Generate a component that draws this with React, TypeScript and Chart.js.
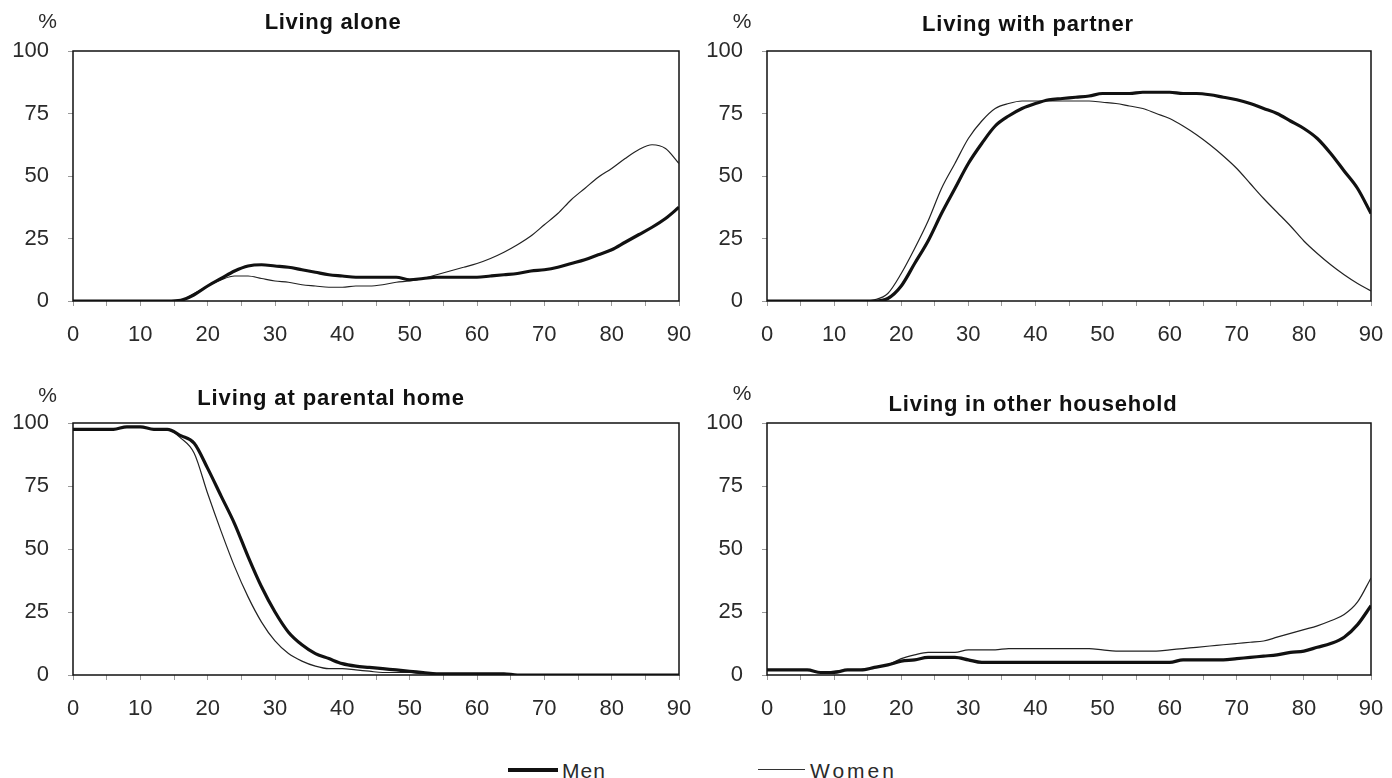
import React, { useEffect, useRef } from "react";
import { Chart, registerables } from "chart.js";

Chart.register(...registerables);

// ---------- data ----------
const AGES = [
  0, 2, 4, 6, 8, 10, 12, 14, 16, 18, 20, 22, 24, 26, 28, 30, 32, 34, 36, 38, 40, 42, 44,
  46, 48, 50, 52, 54, 56, 58, 60, 62, 64, 66, 68, 70, 72, 74, 76, 78, 80, 82, 84, 86, 88, 90,
];

const X_TICKS = [0, 5, 10, 15, 20, 25, 30, 35, 40, 45, 50, 55, 60, 65, 70, 75, 80, 85, 90];
const Y_TICKS = [0, 25, 50, 75, 100];

const TITLES = [
  "Living alone",
  "Living with partner",
  "Living at parental home",
  "Living in other household",
];
const SERIES_NAMES = ["Men", "Women"];

const ALONE_MEN = [
  0, 0, 0, 0, 0, 0, 0, 0, 0.3, 2.5, 6, 9, 12, 14, 14.5, 14, 13.5, 12.5, 11.5, 10.5, 10, 9.5, 9.5,
  9.5, 9.5, 8.5, 9, 9.5, 9.5, 9.5, 9.5, 10, 10.5, 11, 12, 12.5, 13.5, 15, 16.5, 18.5, 20.5, 23.5,
  26.5, 29.5, 33, 37.5,
];
const ALONE_WOMEN = [
  0, 0, 0, 0, 0, 0, 0, 0, 0.3, 3, 6, 8.5, 10, 10, 9, 8, 7.5, 6.5, 6, 5.5, 5.5, 6, 6, 6.5, 7.5, 8,
  9, 10.5, 12, 13.5, 15, 17, 19.5, 22.5, 26, 30.5, 35, 40.5, 45, 49.5, 53, 57, 60.5, 62.5, 61, 55,
];

const PARTNER_MEN = [
  0, 0, 0, 0, 0, 0, 0, 0, 0, 1, 6, 15, 24, 35, 45, 55, 63, 70, 74, 77, 79, 80.5, 81, 81.5, 82, 83,
  83, 83, 83.5, 83.5, 83.5, 83, 83, 82.5, 81.5, 80.5, 79, 77, 75, 72, 69, 65, 59, 52, 45, 35,
];
const PARTNER_WOMEN = [
  0, 0, 0, 0, 0, 0, 0, 0, 0.5, 3, 11, 21, 32, 45, 55, 65, 72, 77, 79, 80, 80, 80, 80, 80, 80, 79.5,
  79, 78, 77, 75, 73, 70, 66.5, 62.5, 58, 53, 47, 41, 35.5, 30, 24, 19, 14.5, 10.5, 7, 4,
];

const PARENTAL_MEN = [
  97.5, 97.5, 97.5, 97.5, 98.5, 98.5, 97.5, 97.5, 95, 92, 82, 71, 60, 47, 35, 25, 17, 12, 8.5, 6.5,
  4.5, 3.5, 3, 2.5, 2, 1.5, 1, 0.5, 0.5, 0.5, 0.5, 0.5, 0.5, 0, 0, 0, 0, 0, 0, 0, 0, 0, 0, 0, 0, 0,
];
const PARENTAL_WOMEN = [
  97.5, 97.5, 97.5, 97.5, 98.5, 98.5, 97.5, 97.5, 94, 88, 72, 57, 43, 31, 21, 13.5, 8.5, 5.5, 3.5,
  2.5, 2.5, 2, 1.5, 1, 1, 1, 0.5, 0.5, 0, 0, 0, 0, 0, 0, 0, 0, 0, 0, 0, 0, 0, 0, 0, 0, 0, 0,
];

const OTHER_MEN = [
  2, 2, 2, 2, 1, 1, 2, 2, 3, 4, 5.5, 6, 7, 7, 7, 6, 5, 5, 5, 5, 5, 5, 5, 5, 5, 5, 5, 5, 5, 5, 5, 6,
  6, 6, 6, 6.5, 7, 7.5, 8, 9, 9.5, 11, 12.5, 15, 20, 27.5,
];
const OTHER_WOMEN = [
  2, 2, 2, 2, 1, 1.5, 2, 2, 3, 4, 6.5, 8, 9, 9, 9, 10, 10, 10, 10.5, 10.5, 10.5, 10.5, 10.5, 10.5,
  10.5, 10, 9.5, 9.5, 9.5, 9.5, 10, 10.5, 11, 11.5, 12, 12.5, 13, 13.5, 15, 16.5, 18, 19.5, 21.5,
  24, 29, 38.5,
];

// ---------- styling ----------
const FONT = '"Liberation Sans", Arial, Helvetica, sans-serif';
const TEXT_COLOR = "#2a2a2a";

const framePlugin = {
  id: "frame",
  beforeDatasetsDraw(chart: any) {
    const { ctx, chartArea } = chart;
    ctx.save();
    ctx.strokeStyle = "#111";
    ctx.lineWidth = 1.5;
    ctx.strokeRect(chartArea.left, chartArea.top, chartArea.right - chartArea.left, chartArea.bottom - chartArea.top);
    ctx.restore();
  },
};

type PanelProps = {
  men: number[];
  women: number[];
  left: number;
  top: number;
  width: number;
  height: number;
  areaLeft: number;
  areaTop: number;
  areaRight: number;
  areaBottom: number;
};

function Panel(p: PanelProps) {
  const ref = useRef<HTMLCanvasElement>(null);
  useEffect(() => {
    const toPts = (vals: number[]) => AGES.map((a, i) => ({ x: a, y: vals[i] }));
    const chart = new Chart(ref.current as HTMLCanvasElement, {
      type: "line",
      data: {
        datasets: [
          {
            label: SERIES_NAMES[0],
            data: toPts(p.men),
            borderColor: "#111",
            borderWidth: 3.2,
            pointRadius: 0,
            cubicInterpolationMode: "monotone",
            fill: false,
          },
          {
            label: SERIES_NAMES[1],
            data: toPts(p.women),
            borderColor: "#222",
            borderWidth: 1.2,
            pointRadius: 0,
            cubicInterpolationMode: "monotone",
            fill: false,
          },
        ],
      },
      options: {
        responsive: false,
        maintainAspectRatio: false,
        animation: false,
        layout: {
          padding: { top: p.areaTop, right: p.width - p.areaRight, left: 0, bottom: 0 },
        },
        plugins: {
          legend: { display: false },
          tooltip: { enabled: false },
          title: { display: false },
        },
        scales: {
          x: {
            type: "linear",
            min: 0,
            max: 90,
            afterBuildTicks: (s: any) => {
              s.ticks = X_TICKS.map((v) => ({ value: v }));
            },
            afterFit: (s: any) => {
              s.height = p.height - p.areaBottom;
            },
            grid: { drawOnChartArea: false, drawTicks: true, tickLength: 5, color: "#9a9a9a" },
            border: { display: false },
            ticks: {
              autoSkip: false,
              maxRotation: 0,
              minRotation: 0,
              padding: 16,
              color: TEXT_COLOR,
              font: { family: FONT, size: 22 },
              callback: (v: any) => (Number(v) % 10 === 0 ? String(v) : ""),
            },
          },
          y: {
            type: "linear",
            min: 0,
            max: 100,
            afterBuildTicks: (s: any) => {
              s.ticks = Y_TICKS.map((v) => ({ value: v }));
            },
            afterFit: (s: any) => {
              s.width = p.areaLeft;
            },
            grid: { drawOnChartArea: false, drawTicks: true, tickLength: 5, color: "#9a9a9a" },
            border: { display: false },
            ticks: {
              padding: 19,
              color: TEXT_COLOR,
              font: { family: FONT, size: 22 },
              callback: (v: any) => String(v),
            },
          },
        },
      },
      plugins: [framePlugin],
    } as any);
    return () => chart.destroy();
  }, []);
  return (
    <canvas
      ref={ref}
      width={p.width}
      height={p.height}
      style={{ position: "absolute", left: p.left, top: p.top, width: p.width, height: p.height }}
    />
  );
}

function Label(props: {
  text: string;
  cx: number;
  top: number;
  size: number;
  bold?: boolean;
  spacing?: number;
}) {
  return (
    <div
      style={{
        position: "absolute",
        left: props.cx,
        top: props.top,
        transform: "translateX(-50%)",
        whiteSpace: "nowrap",
        fontFamily: FONT,
        fontSize: props.size,
        lineHeight: `${props.size}px`,
        fontWeight: props.bold ? 700 : 400,
        letterSpacing: props.spacing ? `${props.spacing}px` : undefined,
        color: props.bold ? "#111" : TEXT_COLOR,
      }}
    >
      {props.text}
    </div>
  );
}

export default function App() {
  return (
    <div
      style={{
        position: "fixed",
        left: 0,
        top: 0,
        width: 1392,
        height: 778,
        background: "#ffffff",
        overflow: "hidden",
      }}
    >
      <Panel men={ALONE_MEN} women={ALONE_WOMEN} left={0} top={0} width={720} height={360} areaLeft={73} areaTop={51} areaRight={679} areaBottom={301} />
      <Panel men={PARTNER_MEN} women={PARTNER_WOMEN} left={692} top={0} width={720} height={360} areaLeft={75} areaTop={51} areaRight={679} areaBottom={301} />
      <Panel men={PARENTAL_MEN} women={PARENTAL_WOMEN} left={0} top={360} width={720} height={380} areaLeft={73} areaTop={63} areaRight={679} areaBottom={315} />
      <Panel men={OTHER_MEN} women={OTHER_WOMEN} left={692} top={360} width={720} height={380} areaLeft={75} areaTop={63} areaRight={679} areaBottom={315} />

      <Label text={TITLES[0]} cx={333} top={11} size={22} bold spacing={0.7} />
      <Label text={TITLES[1]} cx={1028} top={13} size={22} bold spacing={0.8} />
      <Label text={TITLES[2]} cx={331} top={387} size={22} bold spacing={0.9} />
      <Label text={TITLES[3]} cx={1033} top={393} size={22} bold spacing={0.8} />

      <Label text="%" cx={47.5} top={10} size={21} />
      <Label text="%" cx={742} top={10} size={21} />
      <Label text="%" cx={47.5} top={384} size={21} />
      <Label text="%" cx={742} top={382} size={21} />

      <div style={{ position: "absolute", left: 508, top: 768, width: 50, height: 4, background: "#111" }} />
      <div
        style={{
          position: "absolute",
          left: 562,
          top: 760,
          fontFamily: FONT,
          fontSize: 21,
          lineHeight: "21px",
          letterSpacing: "1px",
          color: TEXT_COLOR,
          whiteSpace: "nowrap",
        }}
      >
        {SERIES_NAMES[0]}
      </div>
      <div style={{ position: "absolute", left: 758, top: 769, width: 47, height: 1, background: "#333" }} />
      <div
        style={{
          position: "absolute",
          left: 810,
          top: 760,
          fontFamily: FONT,
          fontSize: 21,
          lineHeight: "21px",
          letterSpacing: "3px",
          color: TEXT_COLOR,
          whiteSpace: "nowrap",
        }}
      >
        {SERIES_NAMES[1]}
      </div>
    </div>
  );
}
